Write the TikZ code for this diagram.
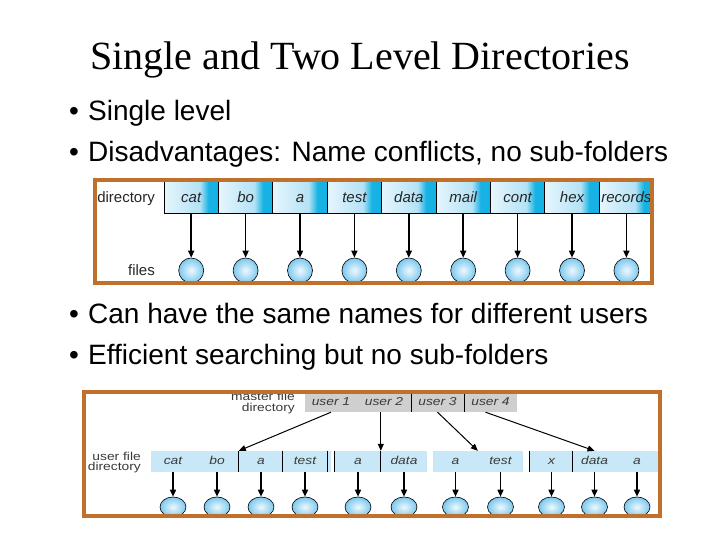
\documentclass[tikz,border=0pt]{standalone}
\usepackage{fontspec}
\setmainfont{Liberation Serif}
\setsansfont{Liberation Sans}
\newfontfamily\widesans[FakeStretch=1.2]{Liberation Sans}
\usetikzlibrary{arrows.meta,shapes.geometric}
\definecolor{frameC}{HTML}{C0702A}
\definecolor{cA}{HTML}{E6F6FD}
\definecolor{cB}{HTML}{B4E2F5}
\definecolor{cC}{HTML}{16B2E4}
\definecolor{fileIn}{HTML}{EEF9FE}
\definecolor{fileOut}{HTML}{7CC8EE}
\definecolor{rowC}{HTML}{C8E8F7}
\definecolor{mastC}{HTML}{CFCFCF}
\definecolor{txtG}{HTML}{3A3A3A}
\pgfdeclarehorizontalshading{cellshade}{100bp}{color(0bp)=(cA); color(25bp)=(cA); color(58bp)=(cB); color(66bp)=(cC); color(75bp)=(cC); color(100bp)=(cC)}
\tikzset{
  titletext/.style={font=\fontsize{40}{48}\selectfont, anchor=base, inner sep=0pt},
  bullettext/.style={font=\sffamily\fontsize{28}{34}\selectfont, anchor=base west, inner sep=0pt},
  framebox/.style={draw=frameC, line width=4pt},
  cellbox/.style={shading=cellshade, draw=black, line width=0.7pt, minimum width=54.4pt, minimum height=34pt, inner sep=0pt, text height=13pt, text depth=0pt, font=\sffamily\itshape\fontsize{15}{18}\selectfont, text=black!85},
  lbl/.style={font=\sffamily\fontsize{15}{18}\selectfont, anchor=base east, inner sep=0pt, text=black!85},
  filecirc/.style={circle, draw=black, line width=0.6pt, shading=radial, inner color=fileIn, outer color=fileOut, minimum size=25pt, inner sep=0pt},
  arr/.style={-{Triangle[width=6pt,length=7pt]}, line width=1.5pt},
  mcell/.style={fill=mastC, minimum height=20pt, inner sep=0pt, text height=8.5pt, text depth=2.5pt, font=\widesans\itshape\fontsize{11.5}{13}\selectfont, text=txtG},
  ucell/.style={fill=rowC, minimum height=21pt, inner sep=0pt, text height=8.5pt, text depth=2.5pt, font=\widesans\itshape\fontsize{11.5}{13}\selectfont, text=txtG},
  lbl2/.style={font=\widesans\fontsize{11.5}{12}\selectfont, anchor=east, inner sep=0pt, text=txtG},
  fileell/.style={ellipse, draw=black, line width=0.6pt, shading=radial, inner color=fileIn, outer color=fileOut, minimum width=26pt, minimum height=20pt, inner sep=0pt},
  divl/.style={line width=0.8pt},
}
\begin{document}
\begin{tikzpicture}[x=1pt,y=-1pt]
\useasboundingbox (0,0) rectangle (720,540);
\fill[white] (0,0) rectangle (720,540);
% title and bullets
\node[titletext] (title) at (360,70) {Single and Two Level Directories};
\node[bullettext] (b1) at (69,121) {•};
\node[bullettext] (t1) at (88,121) {Single level};
\node[bullettext] (b2) at (69,162) {•};
\node[bullettext] (t2) at (88,162) {Disadvantages: Name conflicts, no sub-folders};
\node[bullettext] (b3) at (69,323) {•};
\node[bullettext] (t3) at (88,323) {Can have the same names for different users};
\node[bullettext] (b4) at (69,364) {•};
\node[bullettext] (t4) at (88,364) {Efficient searching but no sub-folders};
% single level directory
\foreach \t [count=\i] in {cat,bo,a,test,data,mail,cont,hex,records} {
  \node[cellbox] (c\i) at ({164+54.4*(\i-0.5)},196) {\t};
  \node[filecirc] (f\i) at ({164+54.4*(\i-0.5)},270.5) {};
  \draw[arr] (c\i) -- (f\i);
}
\node[lbl] (dirl) at (155,203) {directory};
\node[lbl] (filesl) at (155,275) {files};
\draw[framebox] (95,180) rectangle (652,283);
% two level directory
\node[lbl2] (mfd1) at (295,396) {master file};
\node[lbl2] (mfd2) at (295,408.5) {directory};
\node[mcell, minimum width=52pt] (m1) at (331,402) {user 1};
\node[mcell, minimum width=54pt] (m2) at (384,402) {user 2};
\node[mcell, minimum width=53pt] (m3) at (437.5,402) {user 3};
\node[mcell, minimum width=53pt] (m4) at (490.5,402) {user 4};
\draw[divl] (m2.north east) -- (m2.south east);
\draw[divl] (m3.north east) -- (m3.south east);
\node[lbl2] (ufd1) at (141,456) {user file};
\node[lbl2] (ufd2) at (141,467.5) {directory};
% user file directory entries
\fill[rowC] (151,451) rectangle (331,472);
\node[ucell, minimum width=44pt] (e1) at (173,461.5) {cat};
\node[ucell, minimum width=44pt] (e2) at (217,461.5) {bo};
\node[ucell, minimum width=44pt] (e3) at (261,461.5) {a};
\node[ucell, minimum width=44pt] (e4) at (305,461.5) {test};
\node[ucell, minimum width=46pt] (e5) at (358,461.5) {a};
\node[ucell, minimum width=46pt] (e6) at (404,461.5) {data};
\node[ucell, minimum width=45pt] (e7) at (455.5,461.5) {a};
\node[ucell, minimum width=45pt] (e8) at (500.5,461.5) {test};
\node[ucell, minimum width=43pt] (e9) at (551.5,461.5) {x};
\node[ucell, minimum width=43pt] (e10) at (594.5,461.5) {data};
\node[ucell, minimum width=42pt] (e11) at (637,461.5) {a};
\foreach \e in {3,4,5,6,9,10} {
  \draw[divl] (e\e.north west) -- (e\e.south west);
}
\draw[divl] (e4.north east) -- (e4.south east);
% pointers from master to user directories
\draw[arr, line width=1pt] (m1.south) -- (e3.north west);
\draw[arr, line width=1pt] (m2.south -| e6.north west) -- (e6.north west);
\draw[arr, line width=1pt] (m3.south) -- (e8.north west);
\draw[arr, line width=1pt] ([xshift=-5pt]m4.south) -- (e10.north);
% files
\foreach \e in {1,...,11} {
  \node[fileell] (g\e) at (e\e |- 0,507) {};
  \draw[arr] (e\e) -- (g\e);
}
\draw[framebox] (84,392) rectangle (660,516);
\end{tikzpicture}
\end{document}
